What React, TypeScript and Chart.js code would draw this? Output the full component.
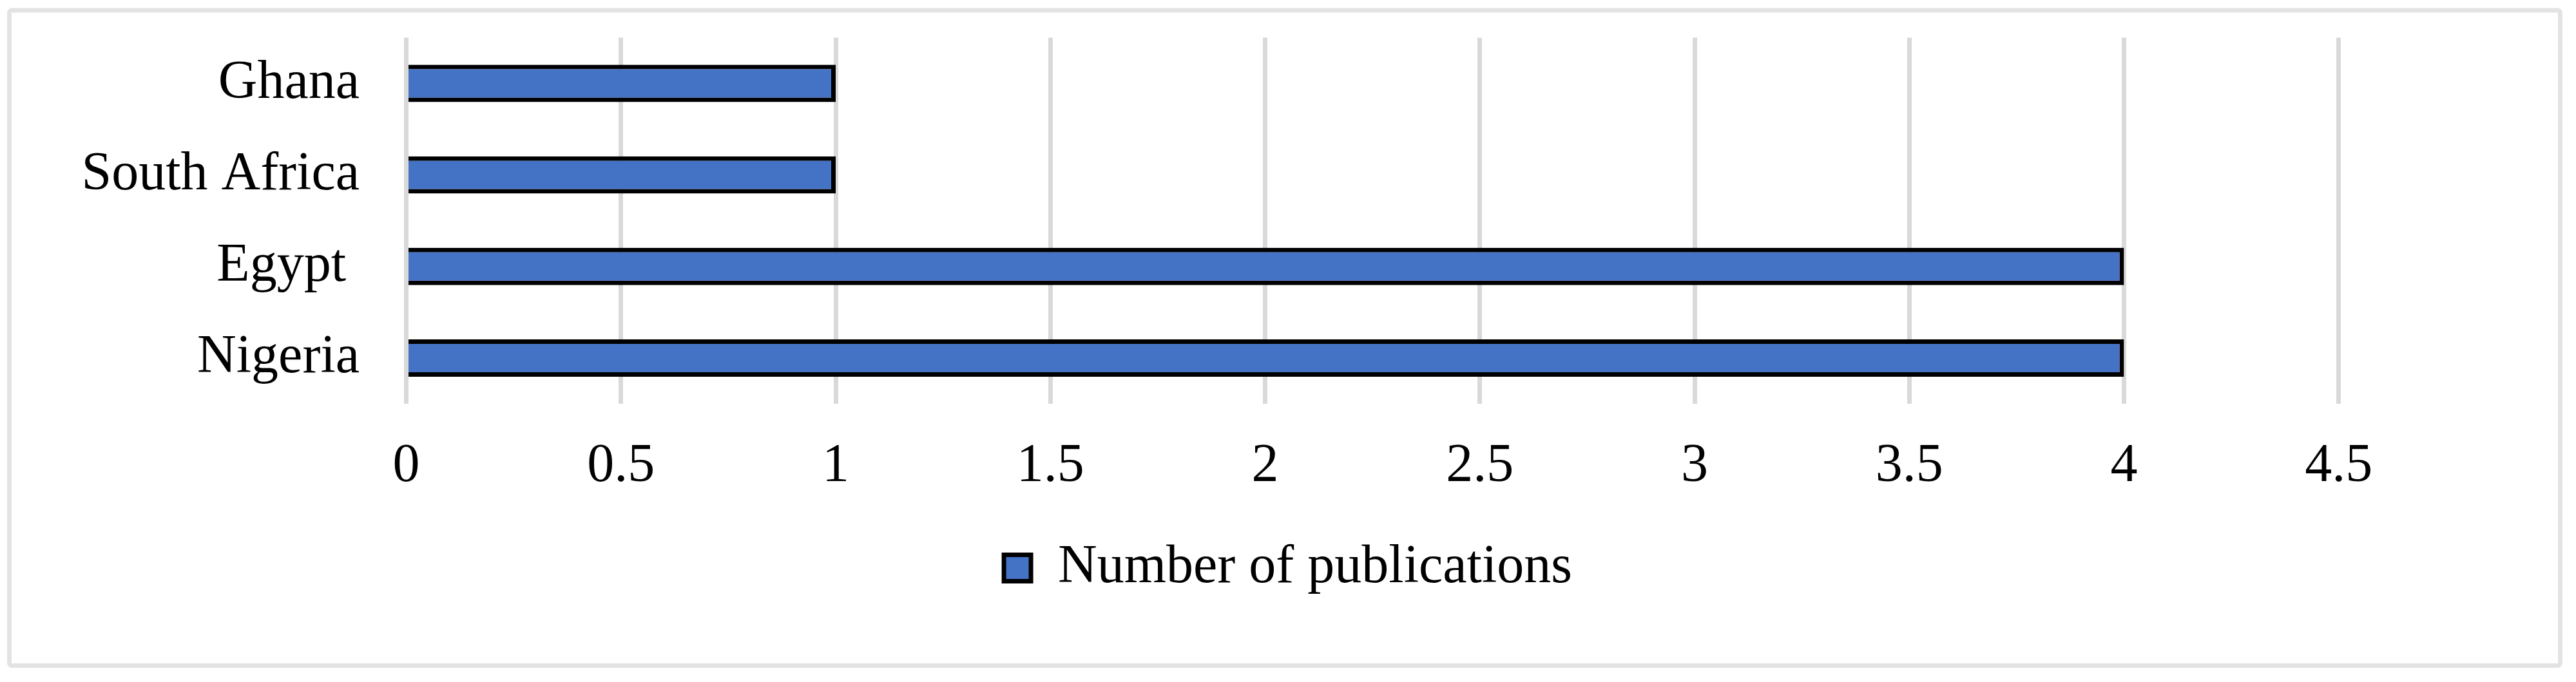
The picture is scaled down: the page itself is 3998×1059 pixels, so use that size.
import React, { useEffect, useRef } from 'react';
import { Chart, registerables } from 'chart.js';

Chart.register(...registerables);

const categories = ['Nigeria', 'Egypt ', 'South Africa', 'Ghana'];
const publications = [4, 4, 1, 1];
const seriesLabel = 'Number of publications';
const xTickValues = [0, 0.5, 1, 1.5, 2, 2.5, 3, 3.5, 4, 4.5];
const xAxisMax = 5;

const FONT = "'Liberation Serif', 'Times New Roman', serif";
const W = 3982;
const H = 1043;

const framePlugin = {
  id: 'frame',
  beforeDraw(chart: any) {
    const { ctx } = chart;
    ctx.save();
    ctx.fillStyle = '#ffffff';
    ctx.fillRect(0, 0, chart.width, chart.height);
    ctx.strokeStyle = '#e3e3e3';
    ctx.lineWidth = 7;
    ctx.beginPath();
    if (ctx.roundRect) ctx.roundRect(6.5, 8, 3959, 1017.5, 4);
    else ctx.rect(6.5, 8, 3959, 1017.5);
    ctx.stroke();
    ctx.restore();
  },
};

export default function App() {
  const ref = useRef<HTMLCanvasElement | null>(null);

  useEffect(() => {
    if (!ref.current) return;
    const chart = new Chart(ref.current, {
      type: 'bar',
      data: {
        labels: categories,
        datasets: [
          {
            label: seriesLabel,
            data: publications,
            backgroundColor: '#4472C4',
            borderColor: '#000000',
            borderWidth: 7,
            borderSkipped: 'start',
            barPercentage: 1,
            categoryPercentage: 0.408,
          },
        ],
      },
      options: {
        indexAxis: 'y',
        responsive: false,
        animation: false,
        layout: { padding: { top: 50, left: 27, right: 27, bottom: 117 } },
        scales: {
          x: {
            type: 'linear',
            min: 0,
            max: xAxisMax,
            afterBuildTicks: (scale: any) => {
              scale.ticks = xTickValues.map((v) => ({ value: v }));
            },
            grid: { color: '#d9d9d9', lineWidth: 7, drawTicks: false },
            border: { display: false },
            ticks: {
              font: { family: FONT, size: 84 },
              color: '#000000',
              padding: 48,
              maxRotation: 0,
              callback: (v: any) => String(v),
            },
          },
          y: {
            type: 'category',
            reverse: true,
            grid: {
              display: true,
              drawOnChartArea: false,
              drawTicks: true,
              tickLength: 72.5,
              color: 'rgba(0,0,0,0)',
            },
            border: { display: false },
            afterFit: (scale: any) => {
              scale.width = 595.5;
            },
            ticks: {
              font: { family: FONT, size: 84 },
              color: '#000000',
              padding: 0,
            },
          },
        },
        plugins: {
          legend: {
            position: 'bottom',
            labels: {
              font: { family: FONT, size: 84 },
              color: '#000000',
              boxWidth: 42,
              boxHeight: 41,
              padding: 16.2,
            },
          },
          tooltip: { enabled: false },
        },
      },
      plugins: [framePlugin],
    } as any);
    return () => chart.destroy();
  }, []);

  return (
    <div style={{ width: W, height: H }}>
      <canvas ref={ref} width={W} height={H} style={{ display: 'block', width: W, height: H }} />
    </div>
  );
}
